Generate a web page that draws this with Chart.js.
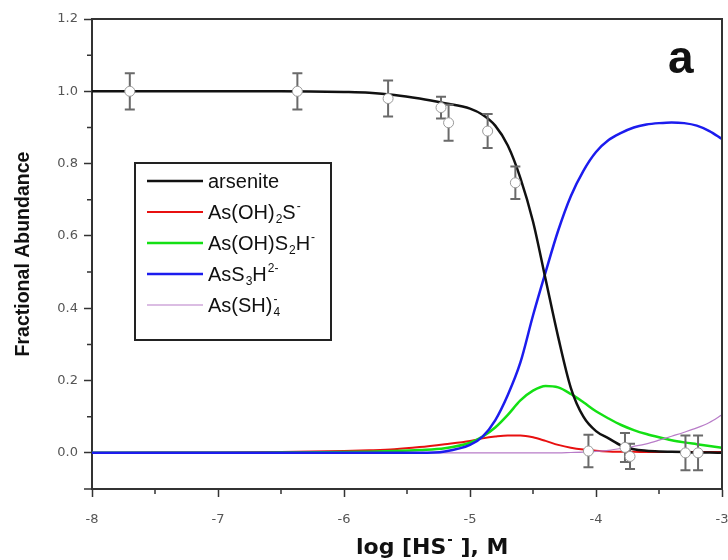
<!DOCTYPE html>
<html><head><meta charset="utf-8">
<script src="https://cdn.jsdelivr.net/npm/chart.js@4.4.1/dist/chart.umd.min.js"></script>
<style>html,body{margin:0;padding:0;background:#fff;}canvas{display:block;}</style>
</head><body>
<canvas id="c" width="728" height="560"></canvas>
<script>
// ---------- data ----------
const logHS = [-8,-7.5,-7,-6.5,-6,-5.8,-5.6,-5.4,-5.2,-5.0,-4.9,-4.8,-4.7,-4.6,-4.5,-4.4,-4.3,-4.2,-4.1,-4.0,-3.9,-3.8,-3.7,-3.6,-3.5,-3.4,-3.3,-3.2,-3.1,-3.0];
const arsenite = [1.0,1.0,1.0,1.0,0.998,0.996,0.99,0.98,0.967,0.952,0.935,0.905,0.85,0.76,0.64,0.48,0.32,0.18,0.10,0.06,0.04,0.02,0.01,0.006,0.004,0.003,0.002,0.001,0.001,0.0];
const asOH2S = [0,0.001,0.001,0.002,0.005,0.007,0.01,0.016,0.024,0.033,0.04,0.045,0.048,0.048,0.043,0.033,0.022,0.014,0.009,0.006,0.004,0.003,0.003,0.002,0.002,0.002,0.002,0.002,0.002,0.002];
const asOHS2H = [0,0,0,0.001,0.002,0.003,0.005,0.008,0.013,0.028,0.045,0.07,0.105,0.145,0.172,0.185,0.181,0.163,0.14,0.115,0.095,0.077,0.063,0.052,0.043,0.035,0.029,0.024,0.019,0.014];
const asS3H = [0,0,0,0,0,0,0,0,0.004,0.022,0.045,0.09,0.16,0.25,0.38,0.50,0.615,0.71,0.78,0.832,0.865,0.885,0.90,0.908,0.912,0.914,0.912,0.905,0.89,0.868];
const asSH4 = [0,0,0,0,0,0,0,0,0,0,0,0,0,0,0,0,0,0.001,0.002,0.004,0.007,0.012,0.018,0.025,0.035,0.046,0.057,0.069,0.084,0.105];

const expX = [-7.70,-6.37,-5.65,-5.23,-5.17,-4.86,-4.64,-4.06,-3.77,-3.73,-3.29,-3.19];
const expY = [1.0,1.0,0.98,0.955,0.913,0.89,0.747,0.005,0.015,-0.01,0.0,0.0];
const expErr = [0.05,0.05,0.05,0.03,0.05,0.047,0.045,0.045,0.04,0.035,0.048,0.048];

const xTicks = [-8,-7,-6,-5,-4,-3];
const xMinor = [-7.5,-6.5,-5.5,-4.5,-3.5];
const yTicks = [0.0,0.2,0.4,0.6,0.8,1.0,1.2];
const yMinor = [0.1,0.3,0.5,0.7,0.9,1.1];

const seriesLabels = ['arsenite','As(OH)\u2082S\u207B','As(OH)S\u2082H\u207B','AsS\u2083H\u00B2\u207B','As(SH)\u2084\u207B'];
const legendParts = [
  [['arsenite','n']],
  [['As(OH)','n'],['2','sub'],['S','n'],['-','sup']],
  [['As(OH)S','n'],['2','sub'],['H','n'],['-','sup']],
  [['AsS','n'],['3','sub'],['H','n'],['2-','sup']],
  [['As(SH)','n'],['4','sub'],['-','supstack']]
];
const seriesColors = ['#111111','#e81010','#14e014','#1c1cee','#b87cc8'];
const seriesWidths = [2.5,2,2.5,2.5,1.2];
const seriesOrder = [1,5,4,2,3];
const seriesData = [arsenite, asOH2S, asOHS2H, asS3H, asSH4];

const SANS = '"Liberation Sans", Arial, sans-serif';

// ---------- helpers ----------
function drawRich(ctx, parts, x, y, size, family, weight) {
  let cx = x, lastW = 0;
  const w = weight ? weight + ' ' : '';
  parts.forEach(([t, k]) => {
    if (k === 'n') {
      ctx.font = w + size + 'px ' + family;
      ctx.fillText(t, cx, y);
      cx += ctx.measureText(t).width;
    } else if (k === 'sub') {
      ctx.font = w + (size * 0.6) + 'px ' + family;
      ctx.fillText(t, cx + 1, y + size * 0.22);
      lastW = ctx.measureText(t).width + 1;
      cx += lastW;
    } else if (k === 'sup') {
      ctx.font = w + (size * 0.6) + 'px ' + family;
      ctx.fillText(t, cx + 1, y - size * 0.45);
      cx += ctx.measureText(t).width + 1;
    } else if (k === 'supstack') {
      ctx.font = w + (size * 0.6) + 'px ' + family;
      ctx.fillText(t, cx - lastW + 1, y - size * 0.45);
    } else if (k === 'gap') {
      cx += t;
    }
  });
}

const extras = {
  id: 'extras',
  beforeDraw(chart) {
    const ctx = chart.ctx;
    ctx.save(); ctx.fillStyle = '#fff'; ctx.fillRect(0, 0, chart.width, chart.height); ctx.restore();
  },
  beforeDatasetDraw(chart, args) {
    if (args.index !== 5) return;
    const {ctx, scales: {x, y}} = chart;
    ctx.save();
    ctx.strokeStyle = '#6a6a6a'; ctx.lineWidth = 2;
    expX.forEach((xv, i) => {
      const px = x.getPixelForValue(xv);
      const t = y.getPixelForValue(expY[i] + expErr[i]);
      const b = y.getPixelForValue(expY[i] - expErr[i]);
      ctx.beginPath();
      ctx.moveTo(px, t); ctx.lineTo(px, b);
      ctx.moveTo(px - 5, t); ctx.lineTo(px + 5, t);
      ctx.moveTo(px - 5, b); ctx.lineTo(px + 5, b);
      ctx.stroke();
    });
    ctx.restore();
  },
  afterDraw(chart) {
    const {ctx, chartArea: a, scales: {x, y}} = chart;
    ctx.save();
    // minor ticks
    ctx.strokeStyle = '#333'; ctx.lineWidth = 1.5;
    ctx.beginPath();
    yMinor.forEach(v => { const p = y.getPixelForValue(v); ctx.moveTo(a.left - 5, p); ctx.lineTo(a.left, p); });
    xMinor.forEach(v => { const p = x.getPixelForValue(v); ctx.moveTo(p, a.bottom); ctx.lineTo(p, a.bottom + 5); });
    ctx.moveTo(a.left - 8, a.bottom); ctx.lineTo(a.left, a.bottom);
    ctx.stroke();
    // frame
    ctx.lineWidth = 2; ctx.strokeStyle = '#333';
    ctx.beginPath();
    ctx.moveTo(a.left, a.top); ctx.lineTo(a.right, a.top); ctx.lineTo(a.right, a.bottom);
    ctx.stroke();

    // legend
    const lx = 135, ly = 163, lw = 196, lh = 177;
    ctx.fillStyle = '#fff'; ctx.fillRect(lx, ly, lw, lh);
    ctx.strokeStyle = '#222'; ctx.lineWidth = 2; ctx.strokeRect(lx, ly, lw, lh);
    ctx.textBaseline = 'alphabetic'; ctx.textAlign = 'left';
    legendParts.forEach((parts, i) => {
      const ry = ly + 18 + i * 31;
      ctx.strokeStyle = seriesColors[i]; ctx.lineWidth = seriesWidths[i];
      ctx.beginPath(); ctx.moveTo(147, ry); ctx.lineTo(203, ry); ctx.stroke();
      ctx.fillStyle = '#111';
      drawRich(ctx, parts, 208, ry + 7, 20, SANS);
    });

    // x axis title
    ctx.fillStyle = '#111';
    drawRich(ctx, [['log [HS','n'],['-','sup'],['gap',4],[' ], M','n']], 356, 554, 22, '"DejaVu Sans"', 'bold');

    // panel letter
    ctx.font = 'bold 46px ' + SANS;
    ctx.fillText('a', 668, 73);
    ctx.restore();
  }
};

const lineSets = seriesData.map((arr, i) => ({
  type: 'line',
  label: seriesLabels[i],
  data: logHS.map((xv, j) => ({x: xv, y: arr[j]})),
  borderColor: seriesColors[i],
  borderWidth: seriesWidths[i],
  pointRadius: 0,
  fill: false,
  cubicInterpolationMode: 'monotone',
  order: seriesOrder[i]
}));

const expSet = {
  type: 'scatter',
  label: 'experimental',
  data: expX.map((xv, i) => ({x: xv, y: expY[i]})),
  pointRadius: 5,
  pointBackgroundColor: '#ffffff',
  pointBorderColor: '#9a9a9a',
  pointBorderWidth: 1,
  showLine: false,
  order: 0
};

new Chart(document.getElementById('c'), {
  type: 'line',
  data: {datasets: [...lineSets, expSet]},
  options: {
    responsive: false, animation: false, devicePixelRatio: 1,
    layout: {padding: {top: 19, right: 3, left: 0, bottom: 0}},
    plugins: {legend: {display: false}, tooltip: {enabled: false}},
    scales: {
      x: {
        type: 'linear', min: -8, max: -3, position: 'bottom',
        afterBuildTicks: s => { s.ticks = xTicks.map(v => ({value: v})); },
        afterFit: s => { s.height = 71; s.paddingLeft = 0; s.paddingRight = 0; },
        grid: {drawOnChartArea: false, drawTicks: true, tickLength: 8, tickColor: '#333', tickWidth: 1.5},
        border: {display: true, color: '#333', width: 2},
        ticks: {font: {family: '"DejaVu Sans"', size: 13}, color: '#555', padding: 15, maxRotation: 0, autoSkip: false, callback: v => String(v)}
      },
      y: {
        type: 'linear', min: -0.1, max: 1.2,
        afterBuildTicks: s => { s.ticks = yTicks.map(v => ({value: v})); },
        afterFit: s => { s.width = 92; s.paddingTop = 0; s.paddingBottom = 0; },
        grid: {drawOnChartArea: false, drawTicks: true, tickLength: 8, tickColor: '#333', tickWidth: 1.5},
        border: {display: true, color: '#333', width: 2},
        ticks: {font: {family: '"DejaVu Sans"', size: 13}, color: '#555', padding: 6, autoSkip: false, callback: v => v.toFixed(1)},
        title: {display: true, text: 'Fractional Abundance', font: {family: SANS, size: 19.5, weight: 'bold'}, color: '#111', padding: {top: 12, bottom: 0}}
      }
    }
  },
  plugins: [extras]
});
</script>
</body></html>
